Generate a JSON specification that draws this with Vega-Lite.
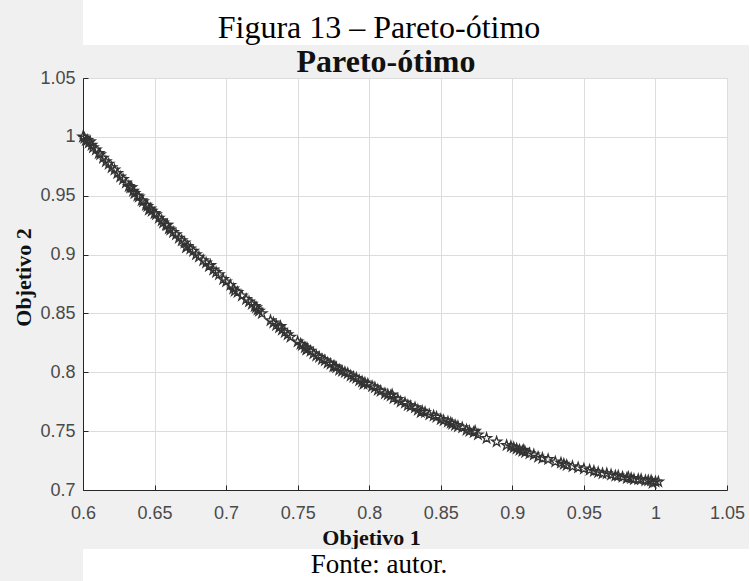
{
  "$schema": "https://vega.github.io/schema/vega-lite/v6.json",
  "background": "#f0f0f0",
  "padding": {"left": 12, "top": 0, "right": 0, "bottom": 0},
  "autosize": {"type": "pad"},
  "columns": 1,
  "spacing": 0,
  "config": {"view": {"stroke": null}},
  "datasets": {
    "pareto": [
      {"o1": 0.600, "o2": 1.000}, {"o1": 0.601, "o2": 0.999}, {"o1": 0.602, "o2": 0.997}, {"o1": 0.603, "o2": 0.997},
      {"o1": 0.604, "o2": 0.995}, {"o1": 0.605, "o2": 0.996}, {"o1": 0.606, "o2": 0.993}, {"o1": 0.607, "o2": 0.991},
      {"o1": 0.609, "o2": 0.989}, {"o1": 0.611, "o2": 0.986}, {"o1": 0.612, "o2": 0.985}, {"o1": 0.614, "o2": 0.982},
      {"o1": 0.616, "o2": 0.979}, {"o1": 0.618, "o2": 0.977}, {"o1": 0.620, "o2": 0.974}, {"o1": 0.622, "o2": 0.972},
      {"o1": 0.624, "o2": 0.969}, {"o1": 0.626, "o2": 0.966}, {"o1": 0.628, "o2": 0.964}, {"o1": 0.630, "o2": 0.961},
      {"o1": 0.632, "o2": 0.958}, {"o1": 0.633, "o2": 0.957}, {"o1": 0.634, "o2": 0.957}, {"o1": 0.635, "o2": 0.954},
      {"o1": 0.636, "o2": 0.952}, {"o1": 0.638, "o2": 0.950}, {"o1": 0.639, "o2": 0.949}, {"o1": 0.641, "o2": 0.946},
      {"o1": 0.642, "o2": 0.945}, {"o1": 0.644, "o2": 0.942}, {"o1": 0.645, "o2": 0.941}, {"o1": 0.646, "o2": 0.938},
      {"o1": 0.647, "o2": 0.939}, {"o1": 0.648, "o2": 0.937}, {"o1": 0.650, "o2": 0.935}, {"o1": 0.651, "o2": 0.934},
      {"o1": 0.653, "o2": 0.931}, {"o1": 0.655, "o2": 0.929}, {"o1": 0.656, "o2": 0.927}, {"o1": 0.658, "o2": 0.925},
      {"o1": 0.659, "o2": 0.925}, {"o1": 0.660, "o2": 0.922}, {"o1": 0.661, "o2": 0.921}, {"o1": 0.663, "o2": 0.919},
      {"o1": 0.665, "o2": 0.917}, {"o1": 0.667, "o2": 0.914}, {"o1": 0.669, "o2": 0.912}, {"o1": 0.671, "o2": 0.910},
      {"o1": 0.672, "o2": 0.906}, {"o1": 0.673, "o2": 0.907}, {"o1": 0.675, "o2": 0.905}, {"o1": 0.677, "o2": 0.903},
      {"o1": 0.679, "o2": 0.900}, {"o1": 0.681, "o2": 0.898}, {"o1": 0.684, "o2": 0.895}, {"o1": 0.686, "o2": 0.893},
      {"o1": 0.688, "o2": 0.890}, {"o1": 0.689, "o2": 0.891}, {"o1": 0.691, "o2": 0.887}, {"o1": 0.693, "o2": 0.885},
      {"o1": 0.695, "o2": 0.883}, {"o1": 0.698, "o2": 0.879}, {"o1": 0.700, "o2": 0.877}, {"o1": 0.703, "o2": 0.874},
      {"o1": 0.705, "o2": 0.871}, {"o1": 0.706, "o2": 0.869}, {"o1": 0.708, "o2": 0.868}, {"o1": 0.711, "o2": 0.865},
      {"o1": 0.714, "o2": 0.862}, {"o1": 0.716, "o2": 0.860}, {"o1": 0.718, "o2": 0.858}, {"o1": 0.720, "o2": 0.856},
      {"o1": 0.721, "o2": 0.855}, {"o1": 0.722, "o2": 0.853}, {"o1": 0.723, "o2": 0.852}, {"o1": 0.725, "o2": 0.850},
      {"o1": 0.731, "o2": 0.844}, {"o1": 0.733, "o2": 0.842}, {"o1": 0.735, "o2": 0.840}, {"o1": 0.737, "o2": 0.838},
      {"o1": 0.738, "o2": 0.839}, {"o1": 0.739, "o2": 0.836}, {"o1": 0.741, "o2": 0.834}, {"o1": 0.743, "o2": 0.832},
      {"o1": 0.745, "o2": 0.830}, {"o1": 0.750, "o2": 0.826}, {"o1": 0.752, "o2": 0.824}, {"o1": 0.753, "o2": 0.823},
      {"o1": 0.755, "o2": 0.821}, {"o1": 0.756, "o2": 0.819}, {"o1": 0.757, "o2": 0.820}, {"o1": 0.759, "o2": 0.818},
      {"o1": 0.761, "o2": 0.816}, {"o1": 0.763, "o2": 0.814}, {"o1": 0.765, "o2": 0.813}, {"o1": 0.767, "o2": 0.811},
      {"o1": 0.769, "o2": 0.810}, {"o1": 0.771, "o2": 0.808}, {"o1": 0.773, "o2": 0.807}, {"o1": 0.775, "o2": 0.805},
      {"o1": 0.776, "o2": 0.805}, {"o1": 0.777, "o2": 0.804}, {"o1": 0.779, "o2": 0.802}, {"o1": 0.781, "o2": 0.801},
      {"o1": 0.783, "o2": 0.800}, {"o1": 0.785, "o2": 0.799}, {"o1": 0.787, "o2": 0.797}, {"o1": 0.789, "o2": 0.796},
      {"o1": 0.791, "o2": 0.795}, {"o1": 0.793, "o2": 0.793}, {"o1": 0.795, "o2": 0.792}, {"o1": 0.796, "o2": 0.790},
      {"o1": 0.797, "o2": 0.791}, {"o1": 0.799, "o2": 0.790}, {"o1": 0.802, "o2": 0.788}, {"o1": 0.804, "o2": 0.787},
      {"o1": 0.806, "o2": 0.785}, {"o1": 0.808, "o2": 0.784}, {"o1": 0.811, "o2": 0.782}, {"o1": 0.813, "o2": 0.781},
      {"o1": 0.815, "o2": 0.780}, {"o1": 0.816, "o2": 0.781}, {"o1": 0.817, "o2": 0.778}, {"o1": 0.820, "o2": 0.777},
      {"o1": 0.822, "o2": 0.775}, {"o1": 0.825, "o2": 0.774}, {"o1": 0.827, "o2": 0.772}, {"o1": 0.829, "o2": 0.771},
      {"o1": 0.832, "o2": 0.770}, {"o1": 0.834, "o2": 0.768}, {"o1": 0.836, "o2": 0.766}, {"o1": 0.837, "o2": 0.767},
      {"o1": 0.839, "o2": 0.766}, {"o1": 0.842, "o2": 0.764}, {"o1": 0.845, "o2": 0.763}, {"o1": 0.847, "o2": 0.762},
      {"o1": 0.850, "o2": 0.760}, {"o1": 0.852, "o2": 0.759}, {"o1": 0.855, "o2": 0.758}, {"o1": 0.857, "o2": 0.757},
      {"o1": 0.858, "o2": 0.756}, {"o1": 0.860, "o2": 0.755}, {"o1": 0.862, "o2": 0.754}, {"o1": 0.865, "o2": 0.753},
      {"o1": 0.868, "o2": 0.751}, {"o1": 0.870, "o2": 0.750}, {"o1": 0.873, "o2": 0.749}, {"o1": 0.874, "o2": 0.750},
      {"o1": 0.876, "o2": 0.747}, {"o1": 0.882, "o2": 0.744}, {"o1": 0.889, "o2": 0.741}, {"o1": 0.896, "o2": 0.738},
      {"o1": 0.899, "o2": 0.737}, {"o1": 0.901, "o2": 0.736}, {"o1": 0.903, "o2": 0.735}, {"o1": 0.905, "o2": 0.734},
      {"o1": 0.907, "o2": 0.733}, {"o1": 0.908, "o2": 0.734}, {"o1": 0.909, "o2": 0.732}, {"o1": 0.912, "o2": 0.731},
      {"o1": 0.915, "o2": 0.730}, {"o1": 0.918, "o2": 0.728}, {"o1": 0.921, "o2": 0.727}, {"o1": 0.925, "o2": 0.726},
      {"o1": 0.930, "o2": 0.724}, {"o1": 0.934, "o2": 0.723}, {"o1": 0.936, "o2": 0.722}, {"o1": 0.938, "o2": 0.721},
      {"o1": 0.942, "o2": 0.720}, {"o1": 0.946, "o2": 0.719}, {"o1": 0.950, "o2": 0.718}, {"o1": 0.954, "o2": 0.717},
      {"o1": 0.957, "o2": 0.716}, {"o1": 0.960, "o2": 0.715}, {"o1": 0.963, "o2": 0.714}, {"o1": 0.966, "o2": 0.714},
      {"o1": 0.969, "o2": 0.713}, {"o1": 0.972, "o2": 0.712}, {"o1": 0.974, "o2": 0.712}, {"o1": 0.977, "o2": 0.711},
      {"o1": 0.980, "o2": 0.710}, {"o1": 0.981, "o2": 0.711}, {"o1": 0.983, "o2": 0.710}, {"o1": 0.985, "o2": 0.709},
      {"o1": 0.988, "o2": 0.709}, {"o1": 0.990, "o2": 0.709}, {"o1": 0.993, "o2": 0.708}, {"o1": 0.995, "o2": 0.708},
      {"o1": 0.997, "o2": 0.708}, {"o1": 0.998, "o2": 0.706}, {"o1": 1.000, "o2": 0.707}, {"o1": 1.002, "o2": 0.707}
    ]
  },
  "concat": [
    {
      "width": 666,
      "height": 45,
      "view": {"fill": "white", "stroke": null},
      "data": {"values": [{"t": "Figura 13 – Pareto-ótimo"}]},
      "mark": {"type": "text", "y": "height", "baseline": "bottom", "align": "center", "dx": -37, "font": "Liberation Serif", "fontSize": 32, "color": "#000000"},
      "encoding": {"text": {"field": "t", "type": "nominal"}}
    },
    {
      "width": 644,
      "height": 412,
      "view": {"fill": "white", "stroke": "#d4d4d4", "strokeWidth": 1},
      "title": {"text": "Pareto-ótimo", "font": "Liberation Serif", "fontSize": 32, "fontWeight": "bold", "color": "#111111", "offset": -10, "dx": -19, "anchor": "middle"},
      "data": {"name": "pareto"},
      "mark": {"type": "point", "shape": "M0,-1L0.2245,-0.309L0.951,-0.309L0.363,0.118L0.588,0.809L0,0.382L-0.588,0.809L-0.363,0.118L-0.951,-0.309L-0.2245,-0.309Z", "filled": false, "color": "#333333", "strokeWidth": 1.3, "size": 110, "opacity": 1},
      "encoding": {
        "x": {
          "field": "o1", "type": "quantitative",
          "scale": {"domain": [0.6, 1.05], "nice": false, "zero": false},
          "axis": {
            "values": [0.6, 0.65, 0.7, 0.75, 0.8, 0.85, 0.9, 0.95, 1, 1.05],
            "format": "~g", "labelFlush": false, "labelOverlap": false,
            "labelFont": "Liberation Sans", "labelFontSize": 18, "labelColor": "#4a4a4a", "labelPadding": 19,
            "tickSize": -5, "tickColor": "#262626", "domainColor": "#262626", "domainWidth": 1,
            "gridColor": "#dcdcdc", "gridWidth": 1,
            "title": "Objetivo 1", "titleFont": "Liberation Serif", "titleFontSize": 22, "titleFontWeight": "bold", "titleColor": "#111111", "titlePadding": 5, "titleX": 288
          }
        },
        "y": {
          "field": "o2", "type": "quantitative",
          "scale": {"domain": [0.7, 1.05], "nice": false, "zero": false},
          "axis": {
            "values": [0.7, 0.75, 0.8, 0.85, 0.9, 0.95, 1, 1.05],
            "format": "~g", "labelFlush": false, "labelOverlap": false,
            "labelFont": "Liberation Sans", "labelFontSize": 18, "labelColor": "#4a4a4a", "labelPadding": 13,
            "tickSize": -5, "tickColor": "#262626", "domainColor": "#262626", "domainWidth": 1,
            "gridColor": "#dcdcdc", "gridWidth": 1,
            "title": "Objetivo 2", "titleFont": "Liberation Serif", "titleFontSize": 22, "titleFontWeight": "bold", "titleColor": "#111111", "titlePadding": 4, "titleY": 199
          }
        }
      }
    },
    {
      "width": 666,
      "height": 32,
      "view": {"fill": "white", "stroke": null},
      "data": {"values": [{"t": "Fonte: autor."}]},
      "mark": {"type": "text", "baseline": "middle", "align": "center", "dx": -37, "font": "Liberation Serif", "fontSize": 27, "color": "#000000"},
      "encoding": {"text": {"field": "t", "type": "nominal"}}
    }
  ]
}
